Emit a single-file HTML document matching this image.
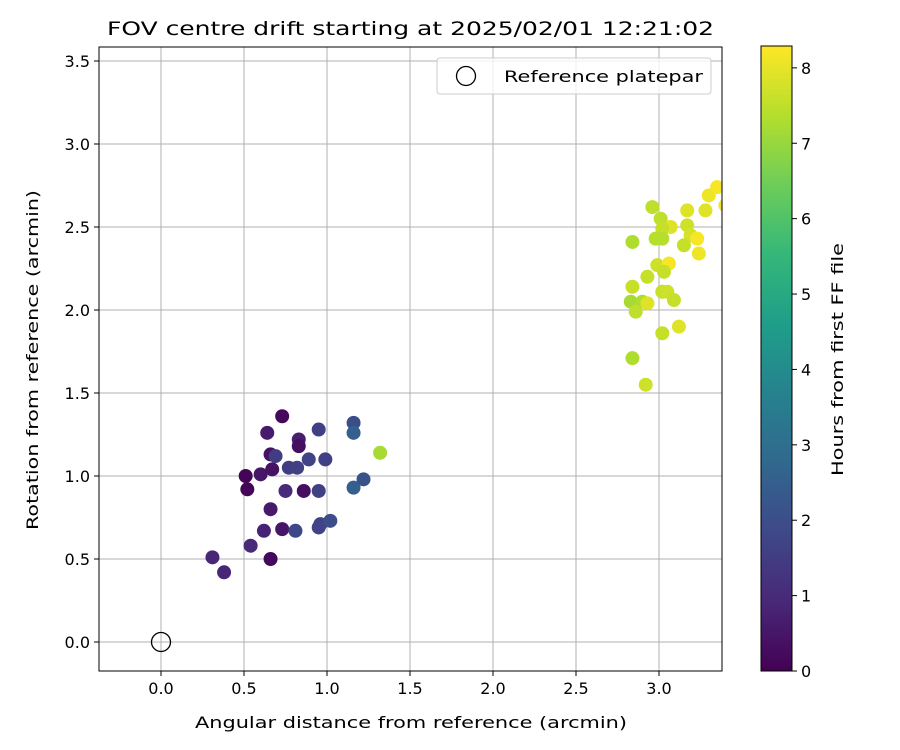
<!DOCTYPE html>
<html><head><meta charset="utf-8"><style>body{margin:0;background:#fff}svg{display:block;font-family:"DejaVu Sans","Liberation Sans",sans-serif}</style></head>
<body>
<svg id="c" width="900" height="750" viewBox="0 0 900 750"></svg>
<script>
const xVals=[0.31,0.38,0.54,0.66,0.51,0.52,0.60,0.62,0.66,0.67,0.66,0.69,0.64,0.73,0.73,0.75,0.77,0.82,0.83,0.83,0.86,0.81,0.89,0.95,0.95,0.99,0.95,0.96,1.02,1.16,1.16,1.16,1.22,1.32,
2.96,3.01,3.07,3.02,2.84,2.98,3.02,3.17,3.28,3.30,3.35,3.17,3.19,3.23,3.15,3.24,2.99,3.06,3.03,2.93,2.84,2.83,2.90,2.93,2.86,3.02,3.05,3.09,3.02,3.12,2.84,2.92,3.40];
const yVals=[0.51,0.42,0.58,0.50,1.00,0.92,1.01,0.67,0.80,1.04,1.13,1.12,1.26,1.36,0.68,0.91,1.05,1.05,1.22,1.18,0.91,0.67,1.10,1.28,0.91,1.10,0.69,0.71,0.73,1.32,1.26,0.93,0.98,1.14,
2.62,2.55,2.50,2.49,2.41,2.43,2.43,2.60,2.60,2.69,2.74,2.51,2.45,2.43,2.39,2.34,2.27,2.28,2.23,2.20,2.14,2.05,2.05,2.04,1.99,2.11,2.11,2.06,1.86,1.90,1.71,1.55,2.63];
const hours=[0.9,0.9,1.0,0.2,0.1,0.1,0.5,0.8,0.6,0.4,0.4,1.5,0.6,0.2,0.5,1.0,1.5,1.6,0.7,0.3,0.3,1.8,1.7,1.6,1.6,1.6,1.7,1.7,2.0,2.0,2.5,2.5,2.1,7.2,
7.5,7.5,7.9,7.6,7.3,7.4,7.4,7.9,7.9,8.1,8.2,7.7,7.8,8.2,7.6,8.1,7.7,8.2,7.6,7.6,7.6,7.2,7.3,7.9,7.5,7.6,7.7,7.6,7.6,7.9,7.3,7.7,8.1];
const xTicks=[0.0,0.5,1.0,1.5,2.0,2.5,3.0];
const yTicks=[0.0,0.5,1.0,1.5,2.0,2.5,3.0,3.5];
const cTicks=[0,1,2,3,4,5,6,7,8];
const L=99,R=722,T=47,B=671;
const X=v=>161+v*166, Y=v=>642-v*166;
const cmin=0,cmax=8.29,CT=46,CB=671,CX=761,CW=31;
const C=v=>CB-(v-cmin)/(cmax-cmin)*(CB-CT);
const vir=[[68,1,84],[72,40,120],[62,73,137],[49,104,142],[38,130,142],[31,158,137],[53,183,121],[109,205,89],[180,222,44],[253,231,37]];
function col(v){let t=Math.max(0,Math.min(1,(v-cmin)/(cmax-cmin)))*(vir.length-1);let i=Math.min(Math.floor(t),vir.length-2),f=t-i;const a=vir[i],b=vir[i+1];return `rgb(${a.map((x,k)=>Math.round(x+(b[k]-x)*f)).join(',')})`;}
const svg=document.getElementById('c');const NS='http://www.w3.org/2000/svg';
function el(t,at,p){const e=document.createElementNS(NS,t);for(const k in at)e.setAttribute(k,at[k]);(p||svg).appendChild(e);return e;}
const defs=el('defs',{});const cp=el('clipPath',{id:'pc'},defs);el('rect',{x:L,y:T,width:R-L,height:B-T},cp);
const grid=el('g',{});
xTicks.forEach(v=>{el('line',{x1:X(v),x2:X(v),y1:T,y2:B,stroke:'#b0b0b0','stroke-width':1},grid);
const t=el('text',{x:X(v),y:B+23,'text-anchor':'middle','font-size':16});t.textContent=v.toFixed(1);
el('line',{x1:X(v),x2:X(v),y1:B,y2:B+5,stroke:'#000'});});
yTicks.forEach(v=>{el('line',{x1:L,x2:R,y1:Y(v),y2:Y(v),stroke:'#b0b0b0','stroke-width':1},grid);
const t=el('text',{x:L-9,y:Y(v)+6,'text-anchor':'end','font-size':16});t.textContent=v.toFixed(1);
el('line',{x1:L-5,x2:L,y1:Y(v),y2:Y(v),stroke:'#000'});});
const pts=el('g',{'clip-path':'url(#pc)'});
xVals.forEach((v,i)=>{const c=el('circle',{cx:X(v),cy:Y(yVals[i]),r:7,fill:col(hours[i])},pts);});
const ref=el('circle',{cx:X(0),cy:Y(0),r:9.5,fill:'none',stroke:'#000','stroke-width':1.3});
const fr=el('rect',{x:L,y:T,width:R-L,height:B-T,fill:'none',stroke:'#000','stroke-width':1});
const lg=el('g',{});
el('rect',{x:437,y:58,width:274,height:36,rx:3,fill:'#fff','fill-opacity':0.8,stroke:'#ccc'},lg);
el('circle',{cx:466,cy:76,r:9.5,fill:'none',stroke:'#000','stroke-width':1.3},lg);
const lt=el('text',{x:504,y:82,'font-size':16,textLength:199,lengthAdjust:'spacingAndGlyphs'},lg);lt.textContent='Reference platepar';
const ti=el('text',{x:107,y:35,'font-size':19,textLength:607,lengthAdjust:'spacingAndGlyphs'});ti.textContent='FOV centre drift starting at 2025/02/01 12:21:02';
const xt=el('text',{x:195,y:728,'font-size':16,textLength:432,lengthAdjust:'spacingAndGlyphs'});xt.textContent='Angular distance from reference (arcmin)';
const yt=el('text',{x:38,y:530,'font-size':16,textLength:340,lengthAdjust:'spacingAndGlyphs',transform:'rotate(-90 38 530)'});yt.textContent='Rotation from reference (arcmin)';
const cb=el('g',{});
const lgd=el('linearGradient',{id:'vg',x1:0,y1:1,x2:0,y2:0},defs);
vir.forEach((c,i)=>el('stop',{offset:i/(vir.length-1),'stop-color':`rgb(${c.join(',')})`},lgd));
el('rect',{x:CX,y:CT,width:CW,height:CB-CT,fill:'url(#vg)',stroke:'#000','stroke-width':1},cb);
cTicks.forEach(v=>{el('line',{x1:CX+CW,x2:CX+CW+5,y1:C(v),y2:C(v),stroke:'#000'},cb);const t=el('text',{x:CX+CW+9,y:C(v)+6,'font-size':16},cb);t.textContent=v;});
const ct=el('text',{x:843,y:476,'font-size':16,textLength:233,lengthAdjust:'spacingAndGlyphs',transform:'rotate(-90 843 476)'});ct.textContent='Hours from first FF file';
</script>
</body></html>
